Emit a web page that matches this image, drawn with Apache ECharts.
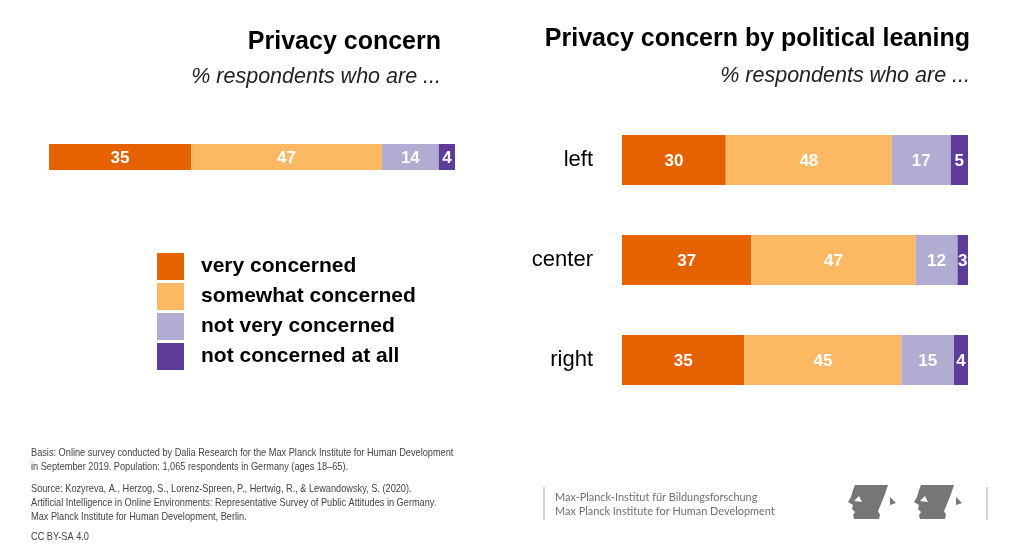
<!DOCTYPE html>
<html>
<head>
<meta charset="utf-8">
<script src="https://cdn.jsdelivr.net/npm/echarts@6/dist/echarts.min.js"></script>
<style>html,body{margin:0;padding:0;background:#fff}#c{width:1018px;height:560px}</style>
</head>
<body>
<div id="c"></div>
<script>
const responseLevels = ['very concerned', 'somewhat concerned', 'not very concerned', 'not concerned at all'];
const levelColors = ['#E66100', '#FDB863', '#B2ABD2', '#5E3C99'];
const overallCategory = ['all'];
const overallValues = [35, 47, 14, 4];
const leaningCategories = ['left', 'center', 'right'];
const veryConcerned = [30, 37, 35];
const somewhatConcerned = [48, 47, 45];
const notVeryConcerned = [17, 12, 15];
const notConcernedAtAll = [5, 3, 4];
const leaningSeries = [veryConcerned, somewhatConcerned, notVeryConcerned, notConcernedAtAll];
const footerLines = [
  'Basis: Online survey conducted by Dalia Research for the Max Planck Institute for Human Development',
  'in September 2019. Population: 1,065 respondents in Germany (ages 18\u201365).',
  'Source: Kozyreva, A., Herzog, S., Lorenz-Spreen, P., Hertwig, R., & Lewandowsky, S. (2020).',
  'Artificial Intelligence in Online Environments: Representative Survey of Public Attitudes in Germany.',
  'Max Planck Institute for Human Development, Berlin.',
  'CC BY-SA 4.0'
];
const footerY = [453, 467, 489, 503, 517, 537];
const logoLines = ['Max-Planck-Institut f\u00fcr Bildungsforschung', 'Max Planck Institute for Human Development'];

const FONT = '"Liberation Sans", Arial, sans-serif';
const chart = echarts.init(document.getElementById('c'));

// rows are shown as shares of their own total (labels show the raw values)
const overallSum = overallValues.reduce((a, b) => a + b, 0);
const leaningSums = leaningCategories.map((_, r) => leaningSeries.reduce((s, arr) => s + arr[r], 0));

function labelFor(raw) {
  return {show: true, position: 'inside', color: '#fff', fontSize: 17, fontWeight: 'bold', fontFamily: FONT,
    offset: [0, 1.5], formatter: p => String(raw[p.dataIndex])};
}

const series = [];
responseLevels.forEach((name, i) => {
  series.push({
    name, type: 'bar', stack: 'overall', xAxisIndex: 0, yAxisIndex: 0,
    barWidth: 26, data: [overallValues[i] / overallSum * 100],
    itemStyle: {color: levelColors[i]}, label: labelFor([overallValues[i]])
  });
});
responseLevels.forEach((name, i) => {
  series.push({
    name, type: 'bar', stack: 'leaning', xAxisIndex: 1, yAxisIndex: 1,
    barWidth: 50, data: leaningSeries[i].map((v, r) => v / leaningSums[r] * 100),
    itemStyle: {color: levelColors[i]}, label: labelFor(leaningSeries[i])
  });
});

function headShape(x0, y0) {
  return [
    {type: 'polygon', shape: {points: [[x0+7,y0],[x0+40,y0],[x0+37,y0+9],[x0+33,y0+19],[x0+30,y0+26],[x0+32,y0+30],[x0+31,y0+34],[x0+6,y0+34],[x0+5,y0+30],[x0+7,y0+27],[x0+4,y0+24],[x0+5,y0+20],[x0,y0+17],[x0+3,y0+12],[x0+5,y0+5]]}, style: {fill: '#767676'}},
    {type: 'polygon', shape: {points: [[x0+6,y0+16],[x0+11,y0+11],[x0+14,y0+17]]}, style: {fill: '#fff'}},
    {type: 'polygon', shape: {points: [[x0+42,y0+12],[x0+48,y0+18],[x0+42,y0+20]]}, style: {fill: '#767676'}}
  ];
}

const graphics = [];
footerLines.forEach((t, i) => {
  graphics.push({type: 'text', x: 31, y: footerY[i], scaleX: 0.8, originX: 0,
    style: {text: t, fill: '#444', fontSize: 11.5, fontFamily: FONT, textVerticalAlign: 'middle', verticalAlign: 'middle'}});
});
logoLines.forEach((t, i) => {
  graphics.push({type: 'text', x: 555, y: 497 + i * 14, scaleX: 0.91, originX: 0,
    style: {text: t, fill: '#707070', fontSize: 12, fontFamily: 'Lato, "Open Sans", sans-serif', textVerticalAlign: 'middle', verticalAlign: 'middle'}});
});
graphics.push({type: 'line', shape: {x1: 544, y1: 487, x2: 544, y2: 520}, style: {stroke: '#aaa', lineWidth: 1}});
graphics.push({type: 'line', shape: {x1: 987, y1: 487, x2: 987, y2: 520}, style: {stroke: '#aaa', lineWidth: 1}});
graphics.push(...headShape(848, 485), ...headShape(914, 485));

chart.setOption({
  animation: false,
  textStyle: {fontFamily: FONT},
  title: [
    {text: 'Privacy concern', right: 577, top: 30, padding: 0, textStyle: {fontSize: 25, fontWeight: 'bold', color: '#000', fontFamily: FONT}},
    {text: '% respondents who are ...', right: 577, top: 66, padding: 0, textStyle: {fontSize: 21.5, fontWeight: 'normal', fontStyle: 'italic', color: '#222', fontFamily: FONT}},
    {text: 'Privacy concern by political leaning', right: 48, top: 27, padding: 0, textStyle: {fontSize: 25, fontWeight: 'bold', color: '#000', fontFamily: FONT}},
    {text: '% respondents who are ...', right: 48, top: 65, padding: 0, textStyle: {fontSize: 21.5, fontWeight: 'normal', fontStyle: 'italic', color: '#222', fontFamily: FONT}}
  ],
  legend: {
    data: responseLevels, orient: 'vertical', left: 157, top: 253, padding: 0,
    itemWidth: 27, itemHeight: 27, itemGap: 3, icon: 'rect', selectedMode: false,
    textStyle: {fontSize: 21, fontWeight: 'bold', color: '#000', fontFamily: FONT, padding: [4, 0, 0, 12]}
  },
  grid: [
    {left: 49, top: 144, width: 406, height: 26},
    {left: 622, top: 110, width: 346, height: 300}
  ],
  xAxis: [
    {gridIndex: 0, type: 'value', min: 0, max: 100, show: false},
    {gridIndex: 1, type: 'value', min: 0, max: 100, show: false}
  ],
  yAxis: [
    {gridIndex: 0, type: 'category', data: overallCategory, show: false},
    {gridIndex: 1, type: 'category', data: leaningCategories, inverse: true,
     axisLine: {show: false}, axisTick: {show: false}, splitLine: {show: false},
     axisLabel: {fontSize: 22, color: '#000', margin: 29, fontFamily: FONT, padding: [2, 0, 0, 0]}}
  ],
  series,
  graphic: graphics
});
</script>
</body>
</html>
